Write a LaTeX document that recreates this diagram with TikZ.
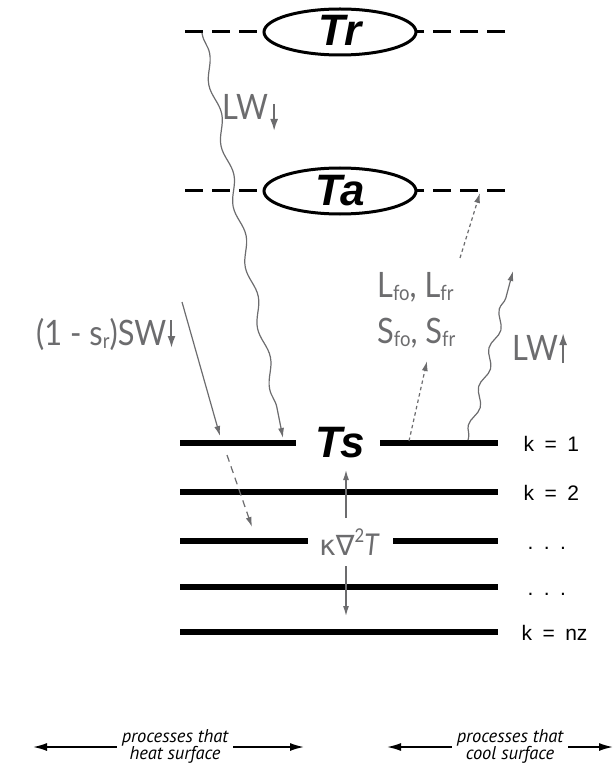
\documentclass[tikz,border=0pt]{standalone}
\usepackage{fontspec}
\setmainfont{Liberation Sans}
\newfontfamily\grayfont[FakeStretch=0.88]{Lato}
\newfontfamily\dvfont{DejaVu Sans}
\newfontfamily\capfont{PT Sans}
\usetikzlibrary{arrows.meta,decorations.pathmorphing,calc,shapes.geometric}
\definecolor{gtxt}{RGB}{108,108,110}
\tikzset{
  layer/.style={line width=6pt},
  lvl/.style={line width=3pt, dash pattern=on 18pt off 9pt},
  tempell/.style={ellipse, draw, line width=3pt, fill=white, minimum width=152pt, minimum height=46pt, inner sep=0pt},
  bigT/.style={font=\fontsize{44}{44}\selectfont\bfseries\itshape},
  klab/.style={font=\fontsize{21}{24}\selectfont, anchor=base west},
  glab/.style={font=\grayfont\fontsize{35}{38}\selectfont, text=gtxt, inner sep=0pt},
  gtip/.style={-{Latex[length=10pt,width=6pt]}},
  gline/.style={draw=gtxt, line width=1.2pt, gtip},
  glyarr/.style={draw=gtxt, line width=2pt, -{Latex[length=12pt,width=8pt]}},
  wavy/.style={gline, decorate, decoration={snake, amplitude=3.5pt, segment length=62pt, post length=14pt, pre length=2pt}},
  dotln/.style={gline, dash pattern=on 3.5pt off 3pt},
  capt/.style={font=\capfont\itshape\fontsize{18.5}{17}\selectfont, align=center, inner sep=0pt},
  barr/.style={line width=1.6pt, -{Latex[length=14pt,width=8pt]}}
}
\newcommand{\gsub}[1]{\raisebox{-0.1em}{\fontsize{21}{21}\selectfont #1}}
\newcommand{\ksp}{\hspace{0.5em}}
\begin{document}
\begin{tikzpicture}[x=1pt,y=-1pt]
\useasboundingbox (0,0) rectangle (613,767);

% radiative levels
\draw[lvl] (185,32) -- (265,32);
\draw[lvl] (505,32) -- (415,32);
\node[tempell] (tr) at (340,32) {};
\node[bigT, anchor=base] (trt) at (340,46) {Tr};

\draw[lvl] (185,191) -- (265,191);
\draw[lvl] (505,191) -- (415,191);
\node[tempell] (ta) at (340,191) {};
\node[bigT, anchor=base] (tat) at (340,205) {Ta};

% soil layers
\draw[layer] (180,443) -- (296,443);
\draw[layer] (380,443) -- (498,443);
\node[bigT, anchor=base] (ts) at (340,457) {Ts};
\draw[layer] (180,492) -- (498,492);
\draw[layer] (180,541) -- (308,541);
\draw[layer] (393,541) -- (498,541);
\draw[layer] (180,587) -- (498,587);
\draw[layer] (180,632) -- (498,632);

\node[klab] (k1) at (520,451) {k\ksp=\ksp1};
\node[klab] (k2) at (520,500) {k\ksp=\ksp2};
\node[klab] (k3) at (524,549) {.\hspace{0.5em}.\hspace{0.5em}.};
\node[klab] (k4) at (524,595) {.\hspace{0.5em}.\hspace{0.5em}.};
\node[klab] (knz) at (518,640) {k\ksp=\ksp nz};

% diffusion
\node[glab, anchor=base] (kap) at (349,555) {\dvfont\fontsize{28}{28}\selectfont κ∇\raisebox{0.45em}{\grayfont\fontsize{19}{19}\selectfont 2}\grayfont\fontsize{30}{30}\selectfont\itshape T};
\coordinate (kupA) at (346,518);
\coordinate (kupB) at (346,470);
\coordinate (kdnA) at (346,566);
\coordinate (kdnB) at (346,616);
\draw[gline] (kupA) -- (kupB);
\draw[gline] (kdnA) -- (kdnB);

% LW down
\coordinate (lwdA) at (202,33);
\coordinate (lwdB) at (283,438);
\draw[wavy] (lwdA) -- (lwdB);
\node[glab, anchor=base west] (lwd) at (222,120) {LW};
\draw[glyarr] ($(lwd.base east)+(6,-16)$) -- ($(lwd.base east)+(6,11)$);

% SW down
\coordinate (swA) at (182,302);
\coordinate (swB) at (220,436);
\coordinate (swC) at (227,455);
\coordinate (swD) at (252,527);
\draw[gline] (swA) -- (swB);
\draw[gline, dash pattern=on 7pt off 5pt] (swC) -- (swD);
\node[glab, anchor=base west] (sw) at (36,345) {(1 - s\gsub{r})SW};
\draw[glyarr] ($(sw.base east)+(5,-25)$) -- ($(sw.base east)+(5,3)$);

% turbulent fluxes
\coordinate (fA) at (409,441);
\coordinate (fB) at (427,361);
\coordinate (fC) at (460,258);
\coordinate (fD) at (480,193);
\draw[dotln] (fA) -- (fB);
\draw[dotln] (fC) -- (fD);
\node[glab, anchor=base west] (lf) at (377,297) {L\gsub{fo}, L\gsub{fr}};
\node[glab, anchor=base west] (sf) at (377,343) {S\gsub{fo}, S\gsub{fr}};

% LW up
\coordinate (lwuA) at (468,440);
\coordinate (lwuB) at (513,271);
\draw[wavy, decoration={snake, amplitude=3.5pt, segment length=40pt, post length=12pt, pre length=2pt}] (lwuA) -- (lwuB);
\node[glab, anchor=base west] (lwu) at (512,360) {LW};
\draw[glyarr] ($(lwu.base east)+(5,3)$) -- ($(lwu.base east)+(5,-27)$);

% captions
\node[capt] (heat) at (175,746) {processes that\\heat surface};
\node[capt] (cool) at (510,746) {processes that\\cool surface};
\coordinate (h1) at (33,747);
\coordinate (h2) at (304,747);
\coordinate (c1) at (387,747);
\coordinate (c2) at (613,747);
\draw[barr] (heat.west) ++(-5,1) -- (h1);
\draw[barr] (heat.east) ++(5,1) -- (h2);
\draw[barr] (cool.west) ++(-5,1) -- (c1);
\draw[barr] (cool.east) ++(5,1) -- (c2);
\end{tikzpicture}
\end{document}
